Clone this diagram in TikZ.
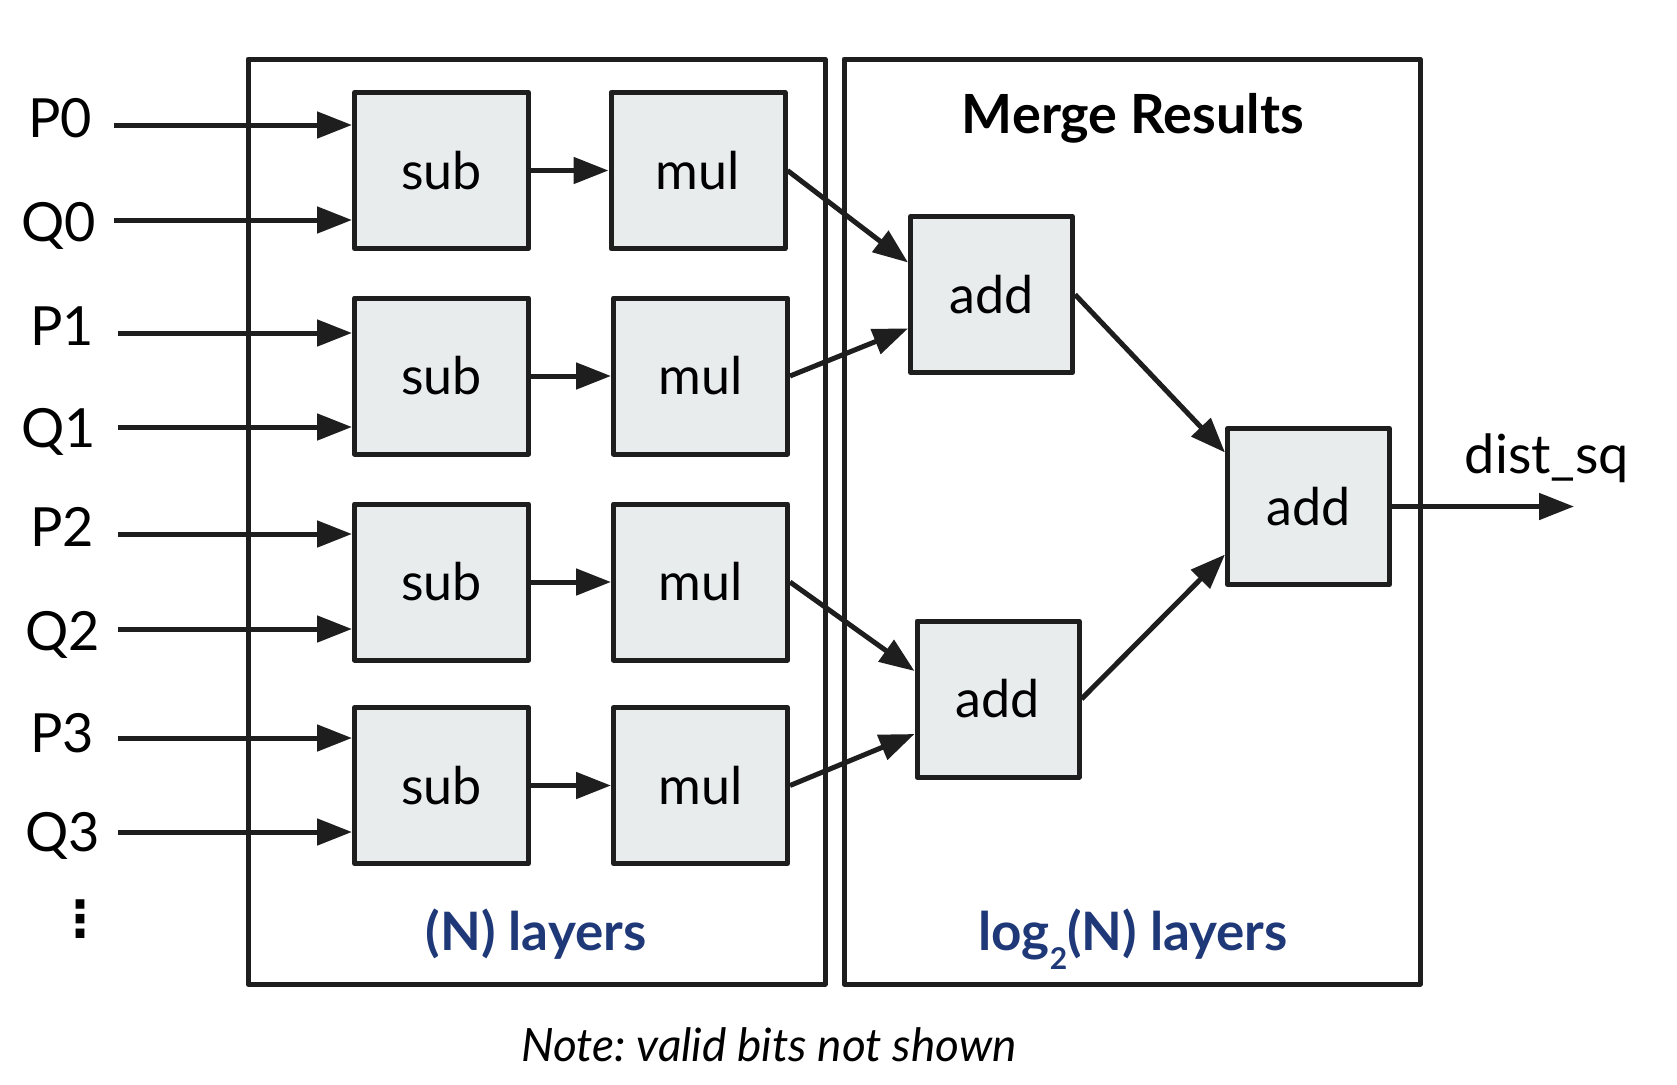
\documentclass[tikz,border=0pt]{standalone}
\usepackage{fontspec}
\setmainfont{Lato}
\newfontfamily\dejavu{DejaVu Sans}
\usetikzlibrary{arrows.meta}
\definecolor{boxfill}{RGB}{232,236,237}
\definecolor{labelblue}{RGB}{31,56,120}
\definecolor{ink}{RGB}{30,30,30}
\frenchspacing
\begin{document}
\begin{tikzpicture}[x=1pt,y=-1pt,
  opbox/.style={draw=ink, line width=5pt, line join=round, fill=boxfill, minimum width=174pt, minimum height=156pt, inner sep=0pt, font=\fontsize{52}{60}\selectfont},
  addbox/.style={opbox, minimum width=162pt},
  frame/.style={draw=ink, line width=5pt, line join=round},
  arr/.style={draw=ink, line width=5pt, -{Triangle[length=35pt,width=26pt]}},
  lbl/.style={font=\fontsize{54}{60}\selectfont, anchor=base, inner sep=0pt},
  dotlbl/.style={font=\dejavu\bfseries\fontsize{50}{50}\selectfont, anchor=center, inner sep=0pt},
  layer/.style={font=\fontsize{53}{60}\selectfont\bfseries, text=labelblue, anchor=base, inner sep=0pt}]
\useasboundingbox (0,0) rectangle (1677,1084);

% frames
\draw[frame] (248,59) rectangle (825,984);
\draw[frame] (844,59) rectangle (1420,984);

% boxes
\node[opbox] (sub1) at (441.5,170.5) {sub};
\node[opbox] (sub2) at (441.5,376) {sub};
\node[opbox] (sub3) at (441.5,582) {sub};
\node[opbox] (sub4) at (441.5,785.5) {sub};
\node[opbox] (mul1) at (698,170.5) {mul};
\node[opbox] (mul2) at (700.5,376) {mul};
\node[opbox] (mul3) at (700.5,582) {mul};
\node[opbox] (mul4) at (700.5,785.5) {mul};
\node[addbox] (add1) at (991.5,294.5) {add};
\node[addbox] (add2) at (998,699) {add};
\node[addbox] (add3) at (1308.5,506.5) {add};

% input labels
\node[lbl] (P0) at (60,137) {P0};
\node[lbl] (Q0) at (59,241) {Q0};
\node[lbl] (P1) at (62,345) {P1};
\node[lbl] (Q1) at (59,447) {Q1};
\node[lbl] (P2) at (62,546) {P2};
\node[lbl] (Q2) at (63,650) {Q2};
\node[lbl] (P3) at (62,752) {P3};
\node[lbl] (Q3) at (63,851) {Q3};
\node[dotlbl] (dots) at (80.5,919) {⋮};

% input arrow starts
\coordinate (p0s) at (114,125);
\coordinate (q0s) at (114,220);
\coordinate (p1s) at (118,333);
\coordinate (q1s) at (118,427);
\coordinate (p2s) at (118,534);
\coordinate (q2s) at (118,629);
\coordinate (p3s) at (118,738);
\coordinate (q3s) at (118,832);

\draw[arr] (p0s) -- (p0s -| sub1.west);
\draw[arr] (q0s) -- (q0s -| sub1.west);
\draw[arr] (p1s) -- (p1s -| sub2.west);
\draw[arr] (q1s) -- (q1s -| sub2.west);
\draw[arr] (p2s) -- (p2s -| sub3.west);
\draw[arr] (q2s) -- (q2s -| sub3.west);
\draw[arr] (p3s) -- (p3s -| sub4.west);
\draw[arr] (q3s) -- (q3s -| sub4.west);

% sub -> mul
\draw[arr] (sub1.east) -- (mul1.west);
\draw[arr] (sub2.east) -- (mul2.west);
\draw[arr] (sub3.east) -- (mul3.west);
\draw[arr] (sub4.east) -- (mul4.west);

% mul -> add
\draw[arr] (mul1.east) -- ([yshift=32pt]add1.west);
\draw[arr] (mul2.east) -- ([yshift=-34pt]add1.west);
\draw[arr] (mul3.east) -- ([yshift=28pt]add2.west);
\draw[arr] (mul4.east) -- ([yshift=-35pt]add2.west);
\draw[arr] (add1.east) -- ([yshift=54pt]add3.west);
\draw[arr] (add2.east) -- ([yshift=-48pt]add3.west);

% output
\coordinate (out) at (1574,506.5);
\draw[arr] (add3.east) -- (add3.east -| out);
\node[lbl] (dist) at (1547,473) {dist\_sq};

% titles
\node[font=\fontsize{54}{60}\selectfont\bfseries, anchor=base, inner sep=0pt] (merge) at (1133,133) {Merge Results};
\node[layer] (nlay) at (536,950) {(N) layers};
\node[layer] (loglay) at (1133,950) {log\raisebox{-19pt}{\fontsize{30}{30}\selectfont 2}(N) layers};
\node[font=\fontsize{46}{52}\selectfont\itshape, anchor=base, inner sep=0pt] (note) at (769,1061) {Note: valid bits not shown};
\end{tikzpicture}
\end{document}
